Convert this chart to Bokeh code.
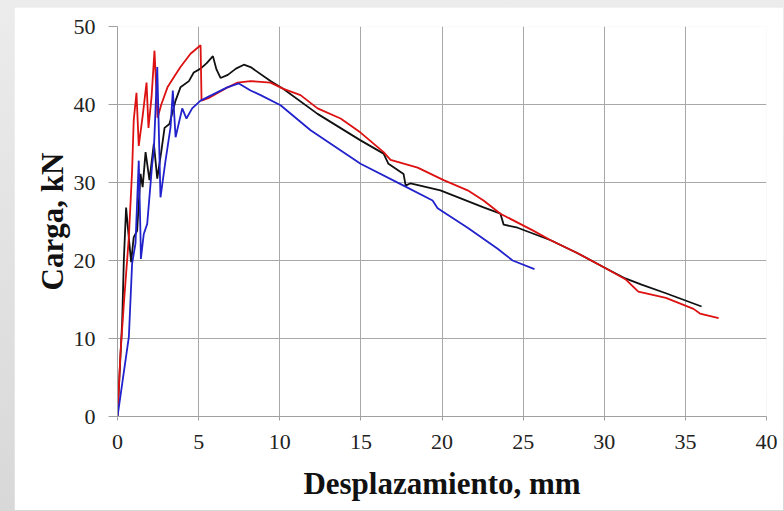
from bokeh.plotting import figure
from bokeh.models import Range1d, FixedTicker
from bokeh.embed import file_html
from bokeh.resources import INLINE

# ---- data ----
red_x = [0, 0.18, 0.39, 0.7, 0.9, 1.0, 1.17, 1.31, 1.55, 1.79, 1.91, 2.1, 2.28, 2.47, 2.7, 3.08, 3.5,
         3.88, 4.5, 5.12, 5.18, 5.6, 6.2, 6.8, 7.4, 8.2, 9.43, 10.23, 11.28, 12.33, 13.75, 14.98, 16.4,
         16.83, 18.5, 20.1, 21.58, 22.56, 23.6, 25.65, 26.7, 28.3, 30.0, 31.3, 32.1, 33.8, 35.5, 35.9, 37.05]
red_y = [0, 8, 14.4, 23, 31.5, 38, 41.5, 34.7, 38.5, 42.8, 37, 41, 46.9, 38.3, 40, 42.2, 43.6,
         44.8, 46.5, 47.6, 40.5, 40.8, 41.5, 42.2, 42.8, 43, 42.8, 42, 41.2, 39.5, 38.2, 36.4, 33.9,
         32.9, 31.9, 30.3, 29, 27.7, 26, 23.8, 22.6, 21, 19.1, 17.6, 16.0, 15.2, 13.8, 13.2, 12.6]

black_x = [0, 0.29, 0.39, 0.53, 0.65, 0.84, 1.0, 1.21, 1.42, 1.55, 1.73, 1.97, 2.24, 2.45, 2.7, 2.9,
           3.2, 3.58, 3.88, 4.4, 4.7, 5.12, 5.5, 5.88, 6.1, 6.35, 6.8, 7.3, 7.79, 8.2, 9.43, 10.23,
           12.33, 14.98, 16.4, 16.7, 17.63, 17.76, 18.06, 19.9, 22.56, 23.6, 23.8, 24.66, 26.7, 28.3,
           30.0, 31.3, 32.3, 33.8, 36.0]
black_y = [0, 12.3, 20, 26.8, 24, 19.8, 23, 23.8, 31.1, 29.4, 33.9, 30.3, 35, 30.5, 34, 37,
           37.5, 40.5, 42.2, 43, 44.1, 44.6, 45.3, 46.2, 44.5, 43.4, 43.8, 44.6, 45.1, 44.8, 43, 42,
           38.8, 35.4, 33.7, 32.4, 31.1, 29.6, 29.9, 29, 26.8, 26, 24.6, 24.2, 22.6, 21,
           19.1, 17.7, 16.9, 15.8, 14.1]

blue_x = [0, 0.7, 0.9, 1.11, 1.31, 1.42, 1.44, 1.62, 1.83, 2.14, 2.24, 2.45, 2.65, 2.96, 3.27, 3.41,
          3.58, 3.99, 4.25, 4.6, 5.12, 5.8, 6.76, 7.48, 8.2, 8.82, 10.05, 11.9, 14.98, 17.63, 19.42,
          19.73, 21.58, 23.43, 24.35, 25.7]
blue_y = [0, 10.2, 19.6, 22.2, 32.8, 23, 20.2, 23.4, 24.7, 32.4, 34.1, 44.8, 28.1, 32.8, 37.1, 41.8,
          35.8, 39.5, 38.2, 39.5, 40.5, 41.2, 42.2, 42.7, 41.8, 41.2, 39.9, 36.7, 32.4, 29.6, 27.7,
          26.7, 24.2, 21.5, 20, 18.9]

x_ticks = [0, 5, 10, 15, 20, 25, 30, 35, 40]
y_ticks = [0, 10, 20, 30, 40, 50]

p = figure(width=769, height=503, output_backend="svg", toolbar_location=None,
           x_range=Range1d(0, 40), y_range=Range1d(0, 50),
           min_border_left=103, min_border_right=17, min_border_top=19, min_border_bottom=94,
           background_fill_color="white", border_fill_color="white", outline_line_color=None,
           margin=(7, 0, 0, 14))

p.line(black_x, black_y, line_color="#111111", line_width=1.8)
p.line(red_x, red_y, line_color="#dd1111", line_width=1.8)
p.line(blue_x, blue_y, line_color="#2222cc", line_width=1.8)

for g in (p.xgrid, p.ygrid):
    g.grid_line_color = "#a8a8a8"
    g.grid_line_width = 1
p.xaxis.ticker = FixedTicker(ticks=x_ticks)
p.yaxis.ticker = FixedTicker(ticks=y_ticks)
p.xgrid.ticker = FixedTicker(ticks=x_ticks)
p.ygrid.ticker = FixedTicker(ticks=y_ticks)

for ax in (p.xaxis, p.yaxis):
    ax.axis_line_color = "#a0a0a0"
    ax.major_tick_line_color = "#a0a0a0"
    ax.minor_tick_line_color = None
    ax.major_tick_in = 0
    ax.major_label_text_font = "Liberation Serif"
    ax.major_label_text_font_size = "22px"
    ax.major_label_text_color = "#222222"
    ax.axis_label_text_font = "Liberation Serif"
    ax.axis_label_text_font_style = "bold"
    ax.axis_label_text_font_size = "31px"
    ax.axis_label_text_color = "#111111"

p.xaxis.major_tick_out = 4
p.xaxis.major_label_standoff = 14
p.xaxis.axis_label = "Desplazamiento, mm"
p.xaxis.axis_label_standoff = 14
p.yaxis.major_tick_out = 9
p.yaxis.major_label_standoff = 13
p.yaxis.axis_label = "Carga, kN"
p.yaxis.axis_label_standoff = 1

html = file_html(p, INLINE)
html = html.replace("<head>", "<head><style>html,body{background:linear-gradient(to bottom,#ececec,#d8d8d8);}</style>", 1)
open("out.html", "w").write(html)
